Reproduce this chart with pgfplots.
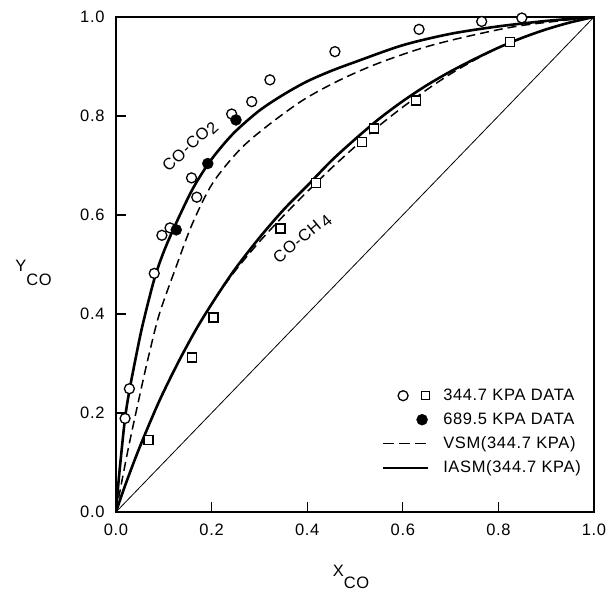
\documentclass[border=0pt]{standalone}
\usepackage{fontspec}
\setmainfont{Liberation Sans}[LetterSpace=4]
\usepackage{pgfplots}
\pgfplotsset{compat=1.18}

\begin{document}
\begin{tikzpicture}[font=\fontsize{16.5}{19}\selectfont]
\begin{axis}[
  scale only axis, width=478pt, height=495pt,
  xmin=0, xmax=1, ymin=0, ymax=1,
  xtick={0,0.2,0.4,0.6,0.8,1.0}, ytick={0,0.2,0.4,0.6,0.8,1.0},
  xtick pos=bottom, ytick pos=left, tick align=inside,
  major tick length=10pt,
  tick style={black, line width=1.2pt},
  axis line style={line width=1.5pt},
  /pgf/number format/fixed, /pgf/number format/fixed zerofill,
  /pgf/number format/precision=1, /pgf/number format/assume math mode=true,
  tick label style={font=\fontsize{16.5}{19}\selectfont},
  yticklabel style={xshift=-8pt},
  xticklabel style={yshift=-8pt},
  xlabel={X\raisebox{-12pt}{CO}},
  ylabel={Y\raisebox{-14pt}{CO}},
  xlabel style={at={(axis description cs:0.4916,-0.131)}, anchor=center, inner sep=0pt},
  ylabel style={rotate=-90, at={(axis description cs:-0.1726,0.483)}, anchor=center, inner sep=0pt},
  legend style={draw=none, fill=none, inner sep=0pt,
    at={(axis description cs:0.5565,0.2505)}, anchor=north west,
    row sep=9pt, nodes={inner sep=0pt, text height=12pt, text depth=3pt},
    /tikz/every odd column/.style={column sep=13pt},
    font=\fontsize{16.5}{19}\selectfont},
  legend cell align=left,
]
% legend
\addlegendimage{legend image code/.code={
  \path[draw=none, fill=none] (0pt,-6pt) rectangle (47pt,6pt);
  \draw[line width=1.3pt, fill=white] (20pt,0pt) circle (5pt);
  \draw[line width=1.3pt, fill=white] (38.5pt,-4pt) rectangle (46.5pt,4pt);}}
\addlegendentry{344.7 KPA DATA}
\addlegendimage{legend image code/.code={
  \path[draw=none, fill=none] (0pt,-6pt) rectangle (47pt,6pt);
  \fill[black] (39pt,0pt) circle (5.5pt);}}
\addlegendentry{689.5 KPA DATA}
\addlegendimage{legend image code/.code={
  \path[draw=none, fill=none] (0pt,-6pt) rectangle (47pt,6pt);
  \draw[line width=1.5pt, dash pattern=on 11pt off 5pt] (0pt,0pt) -- (45pt,0pt);}}
\addlegendentry{VSM(344.7 KPA)}
\addlegendimage{legend image code/.code={
  \path[draw=none, fill=none] (0pt,-6pt) rectangle (47pt,6pt);
  \draw[line width=1.8pt] (0pt,0pt) -- (45pt,0pt);}}
\addlegendentry{IASM(344.7 KPA)}

% diagonal
\addplot[line width=0.8pt, forget plot] coordinates {(0,0) (1,1)};

% VSM CO-CO2
\addplot[line width=1.5pt, dash pattern=on 9pt off 5pt, smooth, forget plot] coordinates {
  (0,0) (0.025,0.125) (0.052,0.246) (0.070,0.322) (0.091,0.401) (0.126,0.496)
  (0.160,0.583) (0.202,0.664) (0.258,0.731) (0.314,0.778) (0.391,0.832)
  (0.469,0.873) (0.550,0.907) (0.650,0.940) (0.750,0.964) (0.850,0.983) (1,1)};
% VSM CO-CH4
\addplot[line width=1.5pt, dash pattern=on 9pt off 5pt, smooth, forget plot] coordinates {
  (0,0) (0.020,0.056) (0.050,0.132) (0.090,0.223) (0.130,0.302) (0.170,0.373)
  (0.210,0.435) (0.250,0.488) (0.300,0.546) (0.350,0.598) (0.400,0.647)
  (0.450,0.694) (0.500,0.738) (0.550,0.780) (0.600,0.818) (0.650,0.853)
  (0.700,0.885) (0.750,0.913) (0.800,0.938) (0.850,0.958) (0.900,0.975)
  (0.950,0.989) (1,1)};

% IASM CO-CO2
\addplot[line width=2.6pt, smooth, forget plot] coordinates {
  (0,0) (0.005,0.058) (0.010,0.108) (0.019,0.190) (0.028,0.245) (0.040,0.305)
  (0.055,0.375) (0.080,0.470) (0.100,0.526) (0.126,0.584) (0.160,0.652)
  (0.192,0.702) (0.220,0.737) (0.251,0.770) (0.300,0.811) (0.350,0.843)
  (0.400,0.870) (0.450,0.891) (0.500,0.909) (0.600,0.943) (0.700,0.966)
  (0.800,0.981) (0.900,0.992) (1,1)};
% IASM CO-CH4
\addplot[line width=2.6pt, smooth, forget plot] coordinates {
  (0,0) (0.020,0.056) (0.050,0.132) (0.090,0.223) (0.130,0.302) (0.170,0.373)
  (0.210,0.435) (0.250,0.492) (0.300,0.554) (0.350,0.610) (0.400,0.659)
  (0.450,0.709) (0.500,0.753) (0.550,0.794) (0.600,0.830) (0.650,0.862)
  (0.700,0.890) (0.750,0.915) (0.800,0.938) (0.850,0.958) (0.900,0.975)
  (0.950,0.989) (1,1)};

% 344.7 kPa data, CO-CO2
\addplot[only marks, mark=*, mark size=5pt,
  mark options={fill=white, draw=black, line width=1.3pt}, forget plot] coordinates {
  (0.019,0.189) (0.028,0.249) (0.080,0.482) (0.096,0.559) (0.113,0.574)
  (0.158,0.675) (0.169,0.636) (0.242,0.804) (0.284,0.829) (0.322,0.873)
  (0.458,0.930) (0.634,0.975) (0.765,0.991) (0.849,0.998)};
% 344.7 kPa data, CO-CH4
\addplot[only marks, mark=square*, mark size=4.5pt,
  mark options={fill=white, draw=black, line width=1.3pt}, forget plot] coordinates {
  (0.068,0.145) (0.159,0.312) (0.204,0.393) (0.344,0.573) (0.418,0.664)
  (0.514,0.748) (0.540,0.775) (0.628,0.831) (0.824,0.950)};
% 689.5 kPa data
\addplot[only marks, mark=*, mark size=5.5pt,
  mark options={fill=black, draw=black}, forget plot] coordinates {
  (0.126,0.570) (0.192,0.704) (0.251,0.792)};

\node[rotate=43] at (axis cs:0.155,0.738) {CO-CO\raisebox{-3pt}{2}};
\node[rotate=40] at (axis cs:0.390,0.552) {CO-CH\,\raisebox{-3pt}{4}};
\end{axis}
\pgfresetboundingbox
\useasboundingbox ([shift={(-116pt,-81pt)}]current axis.south west)
  rectangle ([shift={(14pt,17pt)}]current axis.north east);
\end{tikzpicture}
\end{document}
